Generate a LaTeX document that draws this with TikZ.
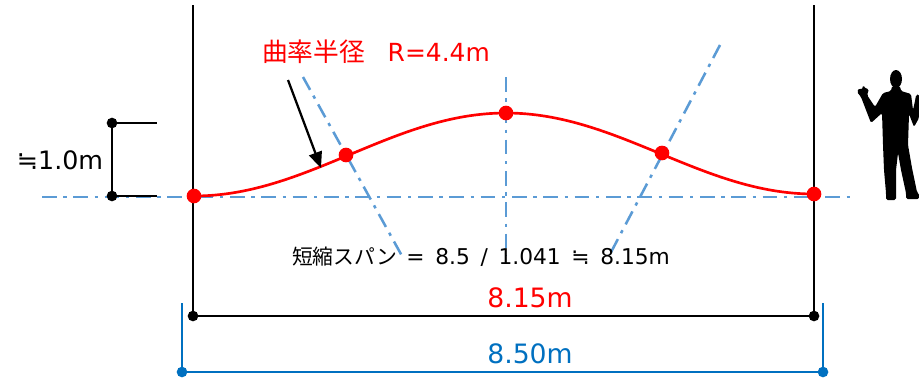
\documentclass[tikz,border=0pt]{standalone}
\usepackage{fontspec}
\setmainfont{DejaVu Sans}
\newfontfamily\jpfont{Noto Sans CJK JP}
\usetikzlibrary{arrows.meta}
\definecolor{axisblue}{RGB}{91,155,213}
\definecolor{dimblue}{RGB}{0,112,192}
\begin{document}
\begin{tikzpicture}[x=0.75pt,y=-0.75pt,
  axisline/.style={axisblue,line width=1.9pt,dash pattern=on 11pt off 5pt on 2.5pt off 5pt},
  frame/.style={black,line width=1.7pt},
  bdot/.style={circle,fill=black,inner sep=0pt,minimum size=8pt},
  rdot/.style={circle,fill=red,inner sep=0pt,minimum size=11pt},
  udot/.style={circle,fill=dimblue,inner sep=0pt,minimum size=8pt},
  lbl/.style={inner sep=0pt,anchor=center}]
\useasboundingbox (0,0) rectangle (919,379);

% supports and shortened span
\coordinate (ltop) at (193,5);
\coordinate (rtop) at (814,5);
\node[bdot] (lb) at (193,316) {};
\node[bdot] (rb) at (814,316) {};
\draw[frame] (ltop) -- (lb.center);
\draw[frame] (rtop) -- (rb.center);
\draw[frame] (lb.center) -- (rb.center);

% centre lines
\coordinate (hl) at (42,197);
\coordinate (hr) at (856,197);
\draw[axisline] (hl) -- (hr);
\coordinate (vt) at (506,77);
\coordinate (vb) at (506,256);
\draw[axisline] (vt) -- (vb);
\coordinate (at1) at (303,77);
\coordinate (ab1) at (402,256);
\draw[axisline] (at1) -- (ab1);
\coordinate (at2) at (720,45);
\coordinate (ab2) at (609,256);
\draw[axisline] (at2) -- (ab2);

% curved member
\draw[red,line width=2pt]
  plot[domain=194:506,samples=60] (\x,{196-83*(1-cos((\x-194)/312*180))/2})
  -- plot[domain=506:814,samples=60] (\x,{113+81*(1-cos((\x-506)/308*180))/2});
\node[rdot] (p1) at (194,196) {};
\node[rdot] (p2) at (346,155) {};
\node[rdot] (p3) at (506,113) {};
\node[rdot] (p4) at (662,153) {};
\node[rdot] (p5) at (814,194) {};

% rise dimension
\node[bdot] (rt) at (112,123) {};
\node[bdot] (rbm) at (112,196) {};
\coordinate (rte) at (157,123);
\coordinate (rbe) at (157,196);
\draw[frame] (rt.center) -- (rbm.center);
\draw[frame] (rt.center) -- (rte);
\draw[frame] (rbm.center) -- (rbe);
\node[lbl,font=\fontsize{19pt}{21pt}\selectfont] (rise) at (60,160) {≒1.0m};

% radius label and pointer
\node[lbl,red,font=\fontsize{18.7pt}{21pt}\selectfont] (rad) at (376,52)
  {{\jpfont\fontsize{19.3pt}{21pt}\selectfont 曲率半径}\hspace{17pt}R=4.4m};
\coordinate (ptr0) at (288,80);
\coordinate (ptr1) at (321,168);
\draw[black,line width=1.7pt,-{Triangle[length=12pt,width=10pt]}] (ptr0) -- (ptr1);

% span formula
\node[lbl,font=\fontsize{16.3pt}{18pt}\selectfont] (eq) at (481,257)
  {{\jpfont\fontsize{15.6pt}{18pt}\selectfont 短縮スパン}\hspace{7pt}=\hspace{8pt}8.5\hspace{8pt}/\hspace{8pt}1.041\hspace{8pt}≒\hspace{8pt}8.15m};
\node[lbl,red,font=\fontsize{20pt}{22pt}\selectfont] (s1) at (530,298) {8.15m};

% full span dimension
\node[udot] (ul) at (182,372) {};
\node[udot] (ur) at (823,372) {};
\coordinate (ult) at (182,303);
\coordinate (urt) at (823,303);
\draw[dimblue,line width=1.7pt] (ult) -- (ul.center) -- (ur.center) -- (urt);
\node[lbl,dimblue,font=\fontsize{20pt}{22pt}\selectfont] (s2) at (530,354) {8.50m};

% human figure for scale
\fill[black] (896,79) ellipse (6 and 9);
\fill[black,rounded corners=1.2pt]
  (892,86) -- (900,86) -- (901,91) -- (911,94)
  -- (913,110) -- (915,101) -- (916,95) -- (919,94) -- (919,118) -- (914,127)
  -- (909,114) -- (908,145)
  -- (912,168) -- (917,192) -- (920,196) -- (919,199) -- (906,199) -- (906,193)
  -- (901,170) -- (898,153) -- (896,170) -- (896,193) -- (896,200) -- (886,200) -- (886,193)
  -- (884,170) -- (883,145) -- (882,113)
  -- (871,123) -- (861,97) -- (857,92) -- (859,88) -- (862,90) -- (863,85) -- (866,89) -- (869,89) -- (867,95)
  -- (875,107) -- (883,93) -- (891,91) -- cycle;
\end{tikzpicture}
\end{document}
